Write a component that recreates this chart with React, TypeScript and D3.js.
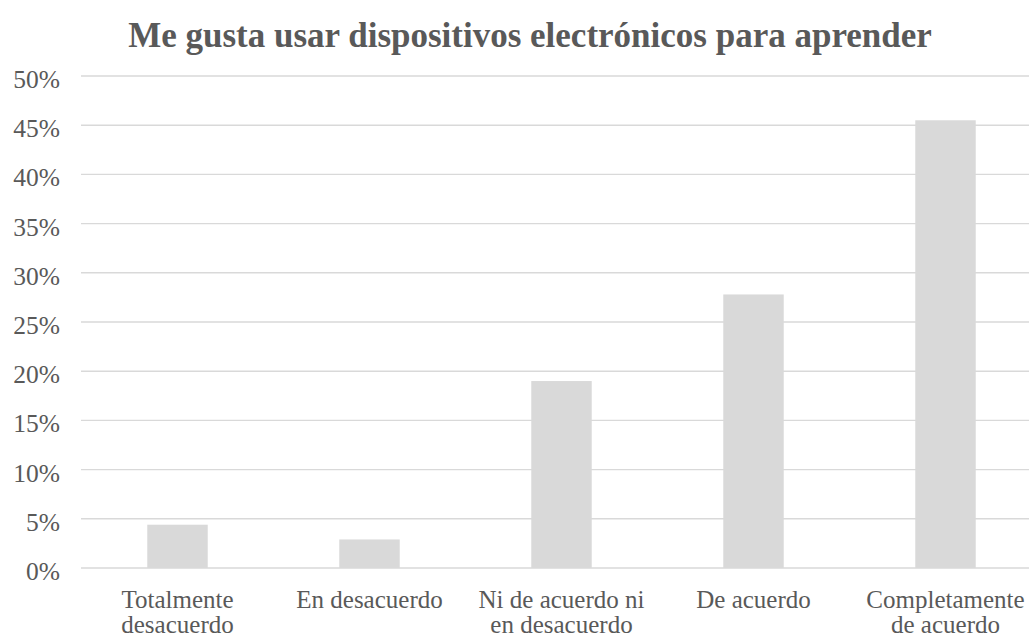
import React from "react";
import * as d3 from "d3";

const categories: string[][] = [
  ["Totalmente", "desacuerdo"],
  ["En desacuerdo"],
  ["Ni de acuerdo ni", "en desacuerdo"],
  ["De acuerdo"],
  ["Completamente", "de acuerdo"],
];
const values: number[] = [0.044, 0.029, 0.19, 0.278, 0.455];
const yTicks: number[] = [0, 0.05, 0.1, 0.15, 0.2, 0.25, 0.3, 0.35, 0.4, 0.45, 0.5];
const title = "Me gusta usar dispositivos electrónicos para aprender";

const W = 1029;
const H = 640;

export default function App() {
  const keys = categories.map((c) => c.join(" "));
  const x = d3.scaleBand<string>().domain(keys).range([81.5, 1041.5]).paddingInner(0.685).paddingOuter(0.3425);
  const y = d3.scaleLinear().domain([0, 0.5]).range([568, 76]);
  const fmt = d3.format(".0%");
  const textColor = "#595959";
  const font = "'Liberation Serif', 'Times New Roman', serif";
  return (
    <svg width={W} height={H} style={{ position: "absolute", left: 0, top: 0, background: "#fff" }} fontFamily={font}>
      <text x={530} y={47} textAnchor="middle" fontSize={35} fontWeight="bold" fill={textColor}>
        {title}
      </text>
      {yTicks.map((t) => (
        <g key={t}>
          <line x1={81} x2={W} y1={y(t)} y2={y(t)} stroke="#d9d9d9" strokeWidth={1.4} />
          <text x={60} y={y(t) + 12} textAnchor="end" fontSize={25.5} fill={textColor}>
            {fmt(t)}
          </text>
        </g>
      ))}
      {values.map((v, i) => (
        <rect
          key={keys[i]}
          x={x(keys[i])}
          y={y(v)}
          width={x.bandwidth()}
          height={y(0) - y(v)}
          fill="#d9d9d9"
        />
      ))}
      {categories.map((lines, i) => (
        <text key={keys[i]} textAnchor="middle" fontSize={25} fill={textColor}>
          {lines.map((l, j) => (
            <tspan key={j} x={(x(keys[i]) as number) + x.bandwidth() / 2} y={608 + j * 25}>
              {l}
            </tspan>
          ))}
        </text>
      ))}
    </svg>
  );
}
